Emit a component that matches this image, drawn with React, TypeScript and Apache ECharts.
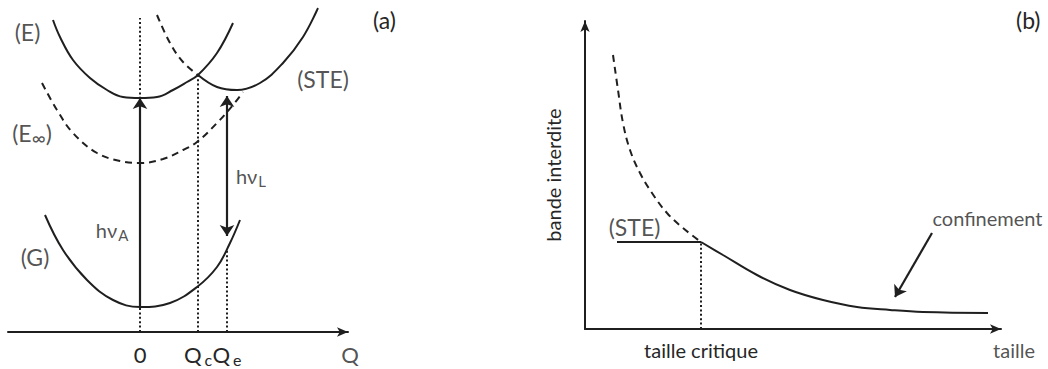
import React, { useEffect, useRef } from 'react';
import * as echarts from 'echarts';

const FONT = 'Lato, "DejaVu Sans", sans-serif';
const INK = '#1f1f1f';
const TXT = '#262626';

// ---------- Panel (a): configuration coordinate Q vs energy ----------
const curveE = [[-8.7, 31.2], [-8, 29.5], [-6.7, 27.2], [-5, 25.4], [-3.3, 24.2], [-1.7, 23.5], [0, 23.4], [1.7, 23.5], [3.3, 24.2], [4.7, 25], [5.8, 25.7], [7.7, 27.9], [9.3, 30.9]];
const curveSTEdashed = [[1.7, 31.7], [3, 28.9], [4.3, 27], [5.8, 25.7]];
const curveSTE = [[5.8, 25.7], [7.7, 24.5], [9.7, 24.2], [12, 24.9], [14.3, 26.9], [16.3, 29.5], [17.8, 32.4]];
const curveEinf = [[-9.8, 24.9], [-8.3, 22.2], [-6.7, 19.9], [-4.3, 17.9], [-2, 17.1], [0, 16.9], [2.3, 17.3], [4.3, 18.2], [5.7, 19], [7.7, 20.9], [9.3, 22.7], [10.3, 24]];
const curveG = [[-9.5, 11.7], [-7.7, 8.2], [-5.3, 5.2], [-2.7, 3.2], [0, 2.5], [3, 2.9], [5.7, 4.5], [7.7, 6.5], [9, 8.9], [10, 11.2]];
const dottedA = [
  [[0, 0], [0, 31.4]],
  [[5.8, 0], [5.8, 25.7]],
  [[8.7, 0], [8.7, 8.2]],
];
const arrowAbsorption = [[0, 2.5], [0, 23.4]];
const arrowLuminescence = [[8.7, 9.6], [8.7, 23.6]];
const tickValuesA = [0, 5.8, 8.7];
const tickLabelsA = ['0', 'Q{q|c}', 'Q{q|e}'];
const labelTextsA = ['(E)', '(E{inf|∞})', '(STE)', 'hν{s|L}', 'hν{s|A}', '(G)', 'Q'];
const labelPosA = [[-11.25, 30], [-10.8, 19.9], [18.3, 25.3], [11.1, 15.6], [-2.8, 10.2], [-10.5, 7.5], [21, -2.2]];

// ---------- Panel (b): band gap vs size ----------
const curveBdashed = [[2.8, 27.4], [3.3, 23.9], [3.8, 20.6], [4.5, 17.9], [5.5, 15.6], [6.7, 13.6], [8.2, 11.6], [9.8, 10.1], [11.6, 8.7]];
const lineSTEb = [[3.2, 8.7], [11.6, 8.7]];
const curveBsolid = [[11.6, 8.7], [13.8, 7.4], [17.2, 5.4], [20.5, 3.9], [23.8, 2.9], [27.2, 2.2], [30.5, 1.9], [33.8, 1.7], [40.3, 1.6]];
const dottedB = [[11.6, 0], [11.6, 8.7]];
const arrowConfinement = [[34.7, 9.6], [31, 3.2]];
const tickValuesB = [11.6];
const tickLabelsB = ['taille critique'];
const labelTextsB = ['(STE)', 'confinement', 'taille'];
const labelPosB = [[4.95, 10.2], [40.25, 11.1], [42.9, -2.1]];

const rich = {
  s: { fontSize: 15, lineHeight: 14, padding: [10, 0, 0, 1], fontFamily: FONT, color: TXT },
  q: { fontSize: 16, lineHeight: 14, padding: [10, 0, 0, 3], fontFamily: FONT, color: TXT },
  inf: { fontSize: 19, lineHeight: 14, padding: [9, 0, 0, 0], fontFamily: FONT, color: TXT },
};

// capital-letter labels (E), (STE), Q... are set a little larger, like the sans-serif capitals of the original
const sizeFor = (t: string) => (/^\(/.test(t) ? 23 : /^Q/.test(t) ? 22 : 20);

function line(data: number[][], grid: number, kind: 'solid' | 'dashed' | 'dotted', width = 2, smooth: boolean | number = 0.4) {
  return {
    type: 'line',
    xAxisIndex: grid,
    yAxisIndex: grid,
    data,
    smooth,
    symbol: 'none',
    silent: true,
    lineStyle: {
      color: INK,
      width,
      type: kind === 'solid' ? 'solid' : kind === 'dashed' ? [7, 5] : [2, 2.4],
    },
    z: kind === 'solid' ? 3 : 2,
  };
}

function arrow(coords: number[][], grid: number, both: boolean) {
  return {
    type: 'lines',
    coordinateSystem: 'cartesian2d',
    xAxisIndex: grid,
    yAxisIndex: grid,
    silent: true,
    symbol: [both ? 'arrow' : 'none', 'arrow'],
    symbolSize: 11,
    lineStyle: { color: INK, width: 2.2, opacity: 1 },
    data: [{ coords }],
    z: 4,
  };
}

function labels(texts: string[], pos: number[][], grid: number) {
  return {
    type: 'scatter',
    xAxisIndex: grid,
    yAxisIndex: grid,
    silent: true,
    clip: false,
    symbol: 'circle',
    symbolSize: 1,
    itemStyle: { color: 'transparent' },
    data: texts.map((t, i) => ({ name: t, value: pos[i], label: { fontSize: sizeFor(t) } })),
    label: {
      show: true,
      position: 'inside',
      formatter: (p: any) => p.name,
      fontFamily: FONT,
      fontSize: 20,
      lineHeight: 24,
      color: TXT,
      rich,
    },
    z: 5,
  };
}

const axisLineStyle = { color: INK, width: 2 };
const titleStyle = { fontFamily: FONT, fontSize: 23, fontWeight: 'normal', color: TXT };

export default function App() {
  const ref = useRef<HTMLDivElement>(null);
  useEffect(() => {
    if (!ref.current) return;
    const chart = echarts.init(ref.current, null, { renderer: 'svg' });
    chart.setOption({
      animation: false,
      backgroundColor: '#ffffff',
      title: [
        { text: '(a)', left: 368, top: 3, textStyle: titleStyle },
        { text: '(b)', left: 1011, top: 3, textStyle: titleStyle },
      ],
      grid: [
        { left: 8, right: 700, top: 2, bottom: 37 },
        { left: 585, right: 47, top: 21, bottom: 40 },
      ],
      xAxis: [
        {
          type: 'value', gridIndex: 0, min: -13.2, max: 20.8,
          axisLine: { show: true, symbol: ['none', 'arrow'], symbolSize: [7, 11], lineStyle: axisLineStyle },
          axisTick: { show: false },
          splitLine: { show: false },
          axisLabel: {
            customValues: tickValuesA,
            interval: 0,
            hideOverlap: false,
            formatter: (v: number) => tickLabelsA[tickValuesA.indexOf(v)] ?? '',
            margin: 10, fontFamily: FONT, fontSize: 22, lineHeight: 24, color: TXT, rich,
          },
        },
        {
          type: 'value', gridIndex: 1, min: 0, max: 41.6,
          axisLine: { show: true, symbol: ['none', 'arrow'], symbolSize: [7, 11], lineStyle: axisLineStyle },
          axisTick: { show: false },
          splitLine: { show: false },
          axisLabel: {
            customValues: tickValuesB,
            interval: 0,
            formatter: (v: number) => tickLabelsB[tickValuesB.indexOf(v)] ?? '',
            margin: 9, fontFamily: FONT, fontSize: 20, lineHeight: 24, color: TXT,
          },
        },
      ],
      yAxis: [
        { type: 'value', gridIndex: 0, min: 0, max: 33, show: false },
        {
          type: 'value', gridIndex: 1, min: 0, max: 30.8,
          axisLine: { show: true, symbol: ['none', 'arrow'], symbolSize: [7, 11], lineStyle: axisLineStyle },
          axisTick: { show: false },
          axisLabel: { show: false },
          splitLine: { show: false },
          name: 'bande interdite',
          nameLocation: 'middle',
          nameRotate: 90,
          nameGap: 22,
          nameTextStyle: { fontFamily: FONT, fontSize: 20, color: TXT },
        },
      ],
      series: [
        line(curveE, 0, 'solid'),
        line(curveSTEdashed, 0, 'dashed'),
        line(curveSTE, 0, 'solid'),
        line(curveEinf, 0, 'dashed'),
        line(curveG, 0, 'solid'),
        ...dottedA.map((d) => line(d, 0, 'dotted', 2, false)),
        arrow(arrowAbsorption, 0, false),
        arrow(arrowLuminescence, 0, true),
        labels(labelTextsA, labelPosA, 0),
        line(curveBdashed, 1, 'dashed'),
        line(lineSTEb, 1, 'solid', 2, false),
        line(curveBsolid, 1, 'solid'),
        line(dottedB, 1, 'dotted', 2, false),
        arrow(arrowConfinement, 1, false),
        labels(labelTextsB, labelPosB, 1),
      ],
    });
    return () => chart.dispose();
  }, []);
  return <div ref={ref} style={{ position: 'absolute', left: 0, top: 0, width: 1048, height: 369 }} />;
}
